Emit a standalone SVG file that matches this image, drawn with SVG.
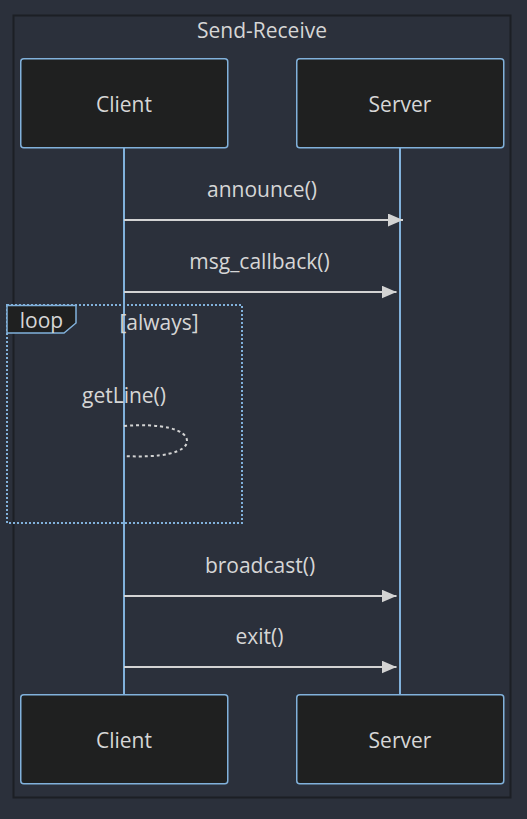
<svg xmlns="http://www.w3.org/2000/svg" width="527" height="819" viewBox="0 0 527 819">
<defs>
<style>
text{font-family:"Open Sans","DejaVu Sans",sans-serif;font-size:21px;fill:#d6d6d6;text-anchor:middle}
.actor{fill:#1f2020;stroke:#81b1db;stroke-width:1.5}
.life{stroke:#81b1db;stroke-width:2}
.msg{stroke:#d3d3d3;stroke-width:2;fill:none}
.loopbox{fill:none;stroke:#81b1db;stroke-width:2;stroke-dasharray:2 2}
.loophead{fill:#1f2020;stroke:#81b1db;stroke-width:1.5}
</style>
<marker id="arrow" viewBox="0 0 15 13" refX="15" refY="6.5" markerWidth="15" markerHeight="13" markerUnits="userSpaceOnUse" orient="auto">
<path d="M0,0 L15,6.5 L0,13 z" fill="#d3d3d3"/>
</marker>
</defs>
<rect x="0" y="0" width="527" height="819" fill="#2b303b"/>
<g id="frame">
<rect x="13.5" y="15.5" width="497" height="782" fill="#2b303b" stroke="#1c1f25" stroke-width="2"/>
<text x="262" y="37.5">Send-Receive</text>
</g>
<g id="lifelines">
<line class="life" x1="124" y1="148" x2="124" y2="695"/>
<line class="life" x1="400" y1="148" x2="400" y2="695"/>
</g>
<g id="client-top"><rect class="actor" x="20.75" y="58.75" width="207" height="89" rx="3"/><text x="124" y="111.5">Client</text></g>
<g id="server-top"><rect class="actor" x="296.75" y="58.75" width="207" height="89" rx="3"/><text x="400" y="111.5">Server</text></g>
<g id="client-bottom"><rect class="actor" x="20.75" y="694.75" width="207" height="89" rx="3"/><text x="124" y="747.5">Client</text></g>
<g id="server-bottom"><rect class="actor" x="296.75" y="694.75" width="207" height="89" rx="3"/><text x="400" y="747.5">Server</text></g>
<g id="loop">
<rect class="loopbox" x="7" y="305" width="235" height="218"/>
<polygon class="loophead" points="7,305.5 76,305.5 76,323 64,333 7,333"/>
<text x="41.5" y="328">loop</text>
<text x="159" y="330">[always]</text>
</g>
<g id="connectors">
<line class="msg" x1="124" y1="220" x2="403" y2="220" marker-end="url(#arrow)"/>
<text x="262" y="196.5">announce()</text>
<line class="msg" x1="124" y1="292" x2="396.5" y2="292" marker-end="url(#arrow)"/>
<text x="259.5" y="268.5">msg_callback()</text>
<text x="124" y="403">getLine()</text>
<path class="msg" d="M124,426 C160,423 187,429 187,441 C187,453 160,458 124,456" stroke-dasharray="3 3"/>
<line class="msg" x1="124" y1="596" x2="396.5" y2="596" marker-end="url(#arrow)"/>
<text x="260" y="572.5">broadcast()</text>
<line class="msg" x1="124" y1="667" x2="396.5" y2="667" marker-end="url(#arrow)"/>
<text x="259.5" y="644">exit()</text>
</g>
</svg>
